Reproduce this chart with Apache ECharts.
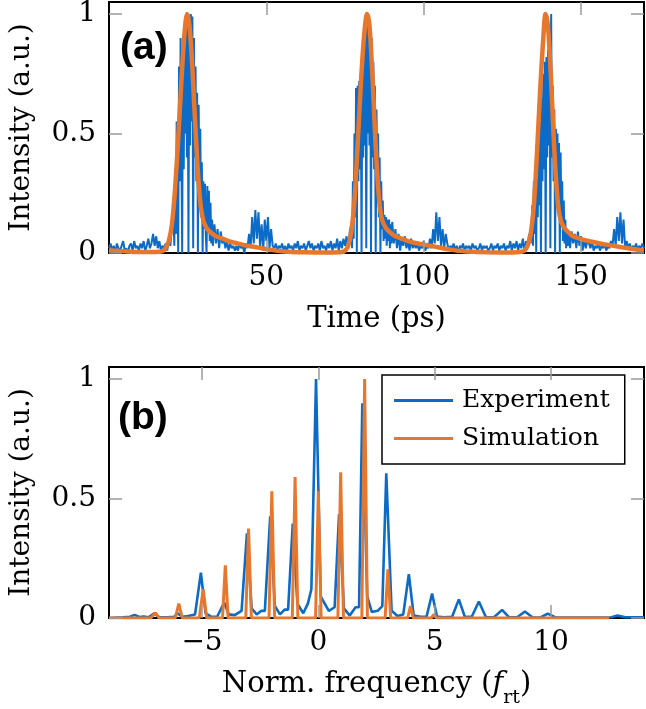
<!DOCTYPE html>
<html>
<head>
<meta charset="UTF-8">
<title>Pulse train and spectrum</title>
<script src="https://cdn.jsdelivr.net/npm/echarts@6/dist/echarts.min.js"></script>
<style>
  html, body { margin: 0; background: #fff; }
  #main { width: 646px; height: 709px; }
</style>
</head>
<body>
<div id="main"></div>
<script>
// ---- panel (a): measured time trace, pieces of [start time ps, sample step ps, values]
var expTime = [
  [0, 0.5, [0.02,0.04,0.01,0.03,0.00,0.04,0.02,0.01,0.03,0.05,0.01,0.02,0.00,0.03,0.04,0.01,0.05,0.02,0.03,0.01,
            0.04,0.02,0.05,0.01,0.03,0.06,0.02,0.04,0.08,0.03,0.07,0.02,0.05,0.01,0.03]],
  [17.5, 0.5, [0.02,0.04,0.01,0.06,0.03,0.12]],
  [20.5, 0.25, [0.15,0.03,0.35,0.08,0.55,0.20,0.00,0.78,0.30,0.90,0.45,0.00,0.88,0.35,0.92,0.50,0.94,0.40,0.96,0.00,
                0.97,0.45,1.00,0.55,0.99,0.02,0.90,0.40,0.78,0.30,0.67,0.00,0.62,0.20,0.52,0.15,0.38,0.00,0.30,0.10,
                0.29,0.08,0.00,0.28,0.10,0.26,0.05,0.21,0.04,0.14,0.03]],
  [33.5, 0.5, [0.12,0.04,0.10,0.02,0.09,0.04,0.06,0.02,0.05,0.01,0.04,0.02,0.03,0.01]],
  [40.5, 0.5, [0.03,0.01,0.04,0.02,0.03,0.00,0.04,0.02,
               0.08,0.02,0.15,0.04,0.18,0.06,0.17,0.03,0.12,0.01,0.14,0.05,0.15,0.02,0.10,0.03]],
  [52.5, 0.5, [0.02,0.04,0.01,0.03,0.02,0.04,0.01,0.03,0.00,0.04,0.02,0.03,0.01,0.04,0.02,0.05,0.01,0.03,0.02,0.04,
               0.01,0.03,0.05,0.02,0.04,0.01,0.03,0.02,0.04,0.01,0.05,0.02,0.03,0.01,0.04,0.02,0.05,0.01,0.04,0.02,
               0.06,0.01,0.05,0.02,0.06,0.03,0.07,0.02,0.09]],
  [77, 0.25, [0.12,0.02,0.30,0.06,0.50,0.15,0.69,0.00,0.70,0.30,0.72,0.35,0.75,0.00,0.80,0.40,0.85,0.45,0.90,0.02,
              0.95,0.50,0.94,0.45,0.93,0.00,0.90,0.40,0.80,0.35,0.70,0.00,0.60,0.25,0.50,0.15,0.40,0.00,0.30,0.10,
              0.22,0.05,0.16,0.06,0.15,0.03,0.14,0.05,0.14,0.02,0.12,0.04,0.13]],
  [90.5, 0.5, [0.04,0.10,0.02,0.08,0.01,0.06,0.03,0.07,0.02,0.05,0.01,0.06,0.02,0.04]],
  [97.5, 0.5, [0.02,0.04,0.01,0.03,0.02,0.05,0.01,0.03,0.02,
               0.06,0.02,0.10,0.04,0.17,0.05,0.15,0.03,0.10,0.02,0.08,0.04]],
  [108, 0.5, [0.01,0.03,0.02,0.04,0.01,0.03,0.00,0.03,0.02,0.04,0.01,0.03,0.02,0.03,0.01,0.04,0.02,0.03,0.01,0.02,
              0.04,0.01,0.03,0.02,0.03,0.01,0.02,0.04,0.01,0.03,0.02,0.04,0.01,0.03,0.02,0.04,0.01,0.03,0.02,0.05,
              0.01,0.04,0.02,0.05,0.01,0.04,0.02,0.06,0.01,0.05,0.03,0.08]],
  [134, 0.25, [0.04,0.10,0.20,0.03,0.30,0.08,0.33,0.00,0.40,0.15,0.45,0.20,0.55,0.00,0.65,0.30,0.75,0.35,0.80,0.00,
               0.82,0.40,0.85,0.45,0.95,0.02,1.00,0.40,0.70,0.30,0.60,0.00,0.52,0.25,0.50,0.20,0.46,0.00,0.42,0.15,
               0.30,0.05,0.22,0.04,0.14,0.02,0.10,0.03,0.09]],
  [146.5, 0.5, [0.02,0.09,0.04,0.08,0.02,0.09,0.03,0.07,0.01,0.06,0.02,0.05]],
  [152.5, 0.5, [0.04,0.02,0.05,0.01,0.03,0.02,0.04,0.01,0.03,0.02,0.04,0.01,0.03,0.02,0.05,0.03,
                0.10,0.03,0.15,0.05,0.17,0.04,0.14,0.02,
                0.05,0.02,0.04,0.01,0.03,0.02,0.04,0.01,0.03,0.02,0.04,0.02]]
];

// simulation in panel (a): [time ps, intensity]
var simTime = [
  [0,0.012],[5,0.007],[10,0.004],[15,0.004],[17,0.008],[18,0.02],[19,0.05],[20,0.12],[21,0.27],[22,0.48],
  [23,0.72],[24,0.92],[24.8,1.0],[25.5,0.96],[26.3,0.82],[27,0.64],[27.8,0.44],[28.5,0.29],[29.2,0.19],[30,0.135],
  [31,0.105],[32,0.09],[34,0.07],[36,0.06],[38,0.05],[40,0.043],[43,0.033],[46,0.026],[49,0.019],[52,0.012],
  [55,0.007],[58,0.004],[62,0.003],[70,0.002],[74,0.004],
  [75,0.01],[76,0.03],[77,0.09],[78,0.22],[79,0.45],[80,0.70],[81,0.90],[82,1.0],[82.7,0.96],[83.4,0.82],
  [84.1,0.63],[84.8,0.43],[85.5,0.28],[86.2,0.18],[87,0.13],[88,0.105],[89,0.09],[91,0.07],[93,0.06],[95,0.05],
  [97,0.043],[100,0.035],[103,0.028],[106,0.02],[109,0.013],[112,0.008],[115,0.005],[120,0.003],[128,0.002],[131,0.005],
  [132,0.01],[133,0.03],[134,0.08],[135,0.2],[136,0.42],[137,0.68],[138,0.9],[138.7,1.0],[139.4,0.96],[140.1,0.82],
  [140.8,0.63],[141.5,0.43],[142.2,0.28],[142.9,0.18],[143.7,0.13],[144.7,0.105],[145.7,0.09],[147.5,0.07],[150,0.058],[153,0.048],
  [156,0.04],[159,0.033],[162,0.026],[165,0.02],[168,0.014],[170,0.011]
];

// ---- panel (b): spectrum, [normalised frequency, intensity]
var expFreq = [
  [-9,0.0],[-8.4,0.003],[-8.1,0.005],[-7.9,0.013],[-7.7,0.004],[-7.5,0.006],[-7.3,0.003],[-7.05,0.02],[-6.85,0.004],[-6.5,0.003],
  [-6.2,0.005],[-6.05,0.02],[-5.85,0.005],[-5.6,0.008],[-5.3,0.015],[-5.05,0.19],[-4.85,0.02],[-4.6,0.005],[-4.35,0.005],[-4.05,0.065],
  [-3.85,0.015],[-3.6,0.012],[-3.3,0.03],[-3.07,0.354],[-2.87,0.04],[-2.65,0.015],[-2.45,0.03],[-2.3,0.03],[-2.07,0.425],[-1.87,0.05],
  [-1.65,0.015],[-1.45,0.035],[-1.3,0.035],[-1.1,0.395],[-0.9,0.06],[-0.65,0.02],[-0.45,0.06],[-0.3,0.12],[-0.1,1.0],[0.1,0.09],
  [0.45,0.03],[0.7,0.045],[0.89,0.434],[1.1,0.04],[1.35,0.01],[1.6,0.045],[1.75,0.045],[1.89,0.898],[2.1,0.09],[2.3,0.025],
  [2.55,0.03],[2.75,0.05],[2.92,0.605],[3.15,0.03],[3.4,0.008],[3.65,0.015],[3.89,0.183],[4.1,0.01],[4.4,0.005],[4.65,0.005],
  [4.89,0.102],[5.1,0.006],[5.4,0.003],[5.75,0.005],[6.04,0.078],[6.3,0.004],[6.6,0.006],[6.9,0.069],[7.2,0.004],[7.55,0.003],
  [7.9,0.034],[8.2,0.003],[8.55,0.003],[8.88,0.027],[9.2,0.003],[9.55,0.002],[9.86,0.018],[10.2,0.002],[11,0.002],[12,0.002],
  [12.6,0.003],[12.86,0.01],[13.2,0.003],[14,0.003]
];
var simFreq = [
  [-9,0],[-7.2,0],[-7.0,0.022],[-6.85,0],[-6.15,0],[-6.0,0.06],[-5.85,0],[-5.12,0],[-4.95,0.12],[-4.8,0],
  [-4.12,0],[-4.0,0.22],[-3.88,0],[-3.12,0],[-3.0,0.374],[-2.88,0],[-2.12,0],[-2.0,0.53],[-1.88,0],[-1.12,0],
  [-1.0,0.59],[-0.88,0],[-0.12,0],[0.0,0.53],[0.12,0],[0.84,0],[0.96,0.61],[1.08,0],[1.87,0],[1.99,1.0],
  [2.11,0],[2.87,0],[2.99,0.204],[3.11,0],[3.84,0],[3.96,0.05],[4.08,0],[4.85,0],[4.97,0.015],[5.09,0],[12.5,0]
];

var timeTicks = [50, 100, 150];
var freqTicks = [-5, 0, 5, 10];
var intensityTicks = [0, 0.5, 1];
var seriesNames = ['Experiment', 'Simulation'];

var blue = '#0b6bc6';
var orange = '#e8772e';
var serif = '"DejaVu Serif", "Liberation Serif", serif';
var tickGrey = '#9a9a9a';

var expTimeData = [];
expTime.forEach(function (seg) {
  seg[2].forEach(function (v, i) { expTimeData.push([seg[0] + i * seg[1], v]); });
});

function fmtNum(v) { return String(v).replace('-', '\u2212'); }

function xAx(grid, min, max, ticks, top, name, extra) {
  var ax = {
    type: 'value', gridIndex: grid, min: min, max: max, position: top ? 'top' : 'bottom', z: 5,
    axisLine: { show: false, onZero: false }, splitLine: { show: false },
    axisTick: { inside: true, length: 13, customValues: ticks, lineStyle: { color: tickGrey, width: 1.5 } },
    axisLabel: { show: !top, customValues: ticks, formatter: fmtNum, color: '#000',
                 fontFamily: serif, fontSize: 28, margin: 11 }
  };
  if (name) {
    ax.name = name; ax.nameLocation = 'middle'; ax.nameGap = 52;
    ax.nameTextStyle = Object.assign({ color: '#000', fontFamily: serif, fontSize: 29 }, extra || {});
  }
  return ax;
}
function yAx(grid, right) {
  var ax = {
    type: 'value', gridIndex: grid, min: 0, max: 1.05, position: right ? 'right' : 'left', z: 5,
    axisLine: { show: false, onZero: false }, splitLine: { show: false },
    axisTick: { inside: true, length: 13, customValues: intensityTicks, lineStyle: { color: tickGrey, width: 1.5 } },
    axisLabel: { show: !right, customValues: intensityTicks, formatter: fmtNum, color: '#000',
                 fontFamily: serif, fontSize: 28, margin: 13 }
  };
  if (!right) {
    ax.name = 'Intensity (a.u.)'; ax.nameLocation = 'middle'; ax.nameGap = 73;
    ax.nameTextStyle = { color: '#000', fontFamily: serif, fontSize: 28 };
  }
  return ax;
}

var richName = {
  n: { fontFamily: serif, fontSize: 29, lineHeight: 38, verticalAlign: 'top', color: '#000' },
  i: { fontFamily: serif, fontSize: 29, lineHeight: 38, verticalAlign: 'top', fontStyle: 'italic', color: '#000' },
  s: { fontFamily: serif, fontSize: 19, lineHeight: 22, verticalAlign: 'bottom', color: '#000' }
};

var chart = echarts.init(document.getElementById('main'));
chart.setOption({
  animation: false,
  grid: [
    { left: 108, top: 2, width: 536, height: 251, show: true, borderColor: '#000', borderWidth: 2 },
    { left: 108, top: 367, width: 536, height: 252, show: true, borderColor: '#000', borderWidth: 2 }
  ],
  xAxis: [
    xAx(0, 0, 170, timeTicks, false, 'Time (ps)'),
    xAx(0, 0, 170, timeTicks, true),
    xAx(1, -9, 14, freqTicks, false, '{n|Norm. frequency (}{i|f}{s|rt}{n|)}', { rich: richName }),
    xAx(1, -9, 14, freqTicks, true)
  ],
  yAxis: [yAx(0, false), yAx(0, true), yAx(1, false), yAx(1, true)],
  legend: {
    data: seriesNames, orient: 'vertical', left: 382, top: 375,
    padding: [13, 15, 13, 12], itemGap: 13, itemWidth: 59, itemHeight: 3, icon: 'rect',
    borderColor: '#000', borderWidth: 1.5, backgroundColor: '#fff', borderRadius: 0,
    textStyle: { fontFamily: serif, fontSize: 25, color: '#000', padding: [0, 0, 0, 4] }
  },
  graphic: [
    { type: 'text', x: 120, y: 48, z: 10,
      style: { text: '(a)', font: 'bold 39px "Liberation Sans", Arial, sans-serif', fill: '#000', verticalAlign: 'middle' } },
    { type: 'text', x: 118, y: 418, z: 10,
      style: { text: '(b)', font: 'bold 39px "Liberation Sans", Arial, sans-serif', fill: '#000', verticalAlign: 'middle' } }
  ],
  series: [
    { name: seriesNames[0], type: 'line', xAxisIndex: 0, yAxisIndex: 0, data: expTimeData, showSymbol: false,
      lineStyle: { color: blue, width: 2 }, itemStyle: { color: blue } },
    { name: seriesNames[1], type: 'line', xAxisIndex: 0, yAxisIndex: 0, data: simTime, showSymbol: false, smooth: 0.3,
      lineStyle: { color: orange, width: 4.5 }, itemStyle: { color: orange } },
    { name: seriesNames[0], type: 'line', xAxisIndex: 2, yAxisIndex: 2, data: expFreq, showSymbol: false,
      lineStyle: { color: blue, width: 2.6 }, itemStyle: { color: blue } },
    { name: seriesNames[1], type: 'line', xAxisIndex: 2, yAxisIndex: 2, data: simFreq, showSymbol: false,
      lineStyle: { color: orange, width: 3 }, itemStyle: { color: orange } }
  ]
});
</script>
</body>
</html>
